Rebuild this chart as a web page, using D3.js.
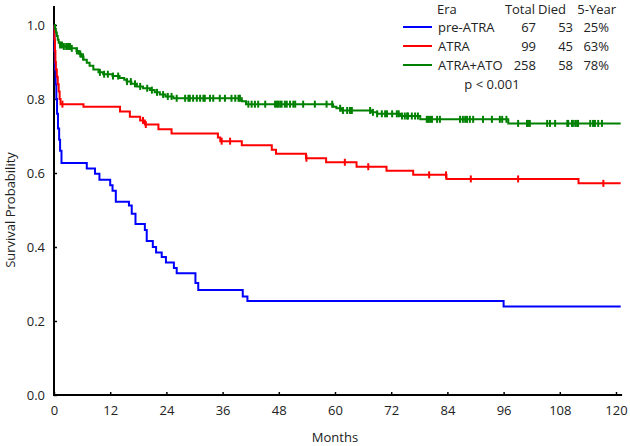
<!DOCTYPE html>
<html><head><meta charset="utf-8">
<script src="https://cdn.jsdelivr.net/npm/d3@7"></script>
<style>html,body{margin:0;padding:0;background:#fff;}svg{display:block;font-family:"Open Sans",sans-serif;}</style>
</head><body><svg id="c" width="630" height="446"></svg>
<script>
// ---- data ----
const eras = ["pre-ATRA", "ATRA", "ATRA+ATO"];
const colors = ["#0000ff", "#ff0000", "#008000"];
const totals = [67, 99, 258];
const died = [53, 45, 58];
const fiveYear = ["25%", "63%", "78%"];
const pValue = "p < 0.001";
const xTicks = [0, 12, 24, 36, 48, 60, 72, 84, 96, 108, 120];
const yTicks = [0.0, 0.2, 0.4, 0.6, 0.8, 1.0];
const followEnd = 121;

const preAtraTime = [0,0.1,0.2,0.35,0.5,0.65,0.85,1.1,1.3,1.6,7.0,8.75,9.7,12.0,12.5,13.2,16.0,16.6,17.4,19.4,19.8,21.1,21.8,23.0,23.9,25.6,26.2,30.2,30.8,40.3,41.3,96];
const preAtraSurv = [1.0,0.93,0.88,0.84,0.80,0.76,0.72,0.69,0.66,0.627,0.612,0.598,0.582,0.567,0.552,0.522,0.512,0.49,0.462,0.446,0.416,0.40,0.385,0.373,0.358,0.343,0.329,0.303,0.284,0.266,0.254,0.239];
const preAtraCensor = [];

const atraTime = [0,0.1,0.2,0.3,0.4,0.6,0.8,1.0,1.2,1.4,6.3,14.1,16.2,18.4,19.4,22.3,25.1,35.0,35.5,40.1,46.5,47.4,53.8,58.1,64.6,71.0,76.7,83.8,112.0];
const atraSurv = [1.0,0.96,0.93,0.90,0.88,0.86,0.84,0.82,0.80,0.786,0.779,0.766,0.752,0.742,0.731,0.718,0.707,0.696,0.686,0.675,0.663,0.652,0.64,0.629,0.617,0.606,0.595,0.584,0.572];
const atraCensor = [1.8,19.0,19.6,35.8,37.6,53.9,62.1,67.1,80.1,83.7,89.0,99.1,117.3];

const atraAtoTime = [0,0.2,0.4,0.6,0.8,1.0,1.3,2.0,3.5,4.8,5.3,5.8,6.3,7.0,7.6,8.4,9.5,10.5,12.5,14.0,15.0,15.5,16.5,17.7,19.0,20.5,21.5,22.6,23.8,25.5,40.1,41.0,59.6,60.3,61.4,67.8,69.0,73.9,78.2,97.0];
const atraAtoSurv = [1.0,0.99,0.98,0.97,0.96,0.952,0.946,0.942,0.937,0.93,0.922,0.914,0.906,0.898,0.89,0.88,0.872,0.867,0.862,0.857,0.852,0.847,0.841,0.834,0.829,0.824,0.818,0.812,0.807,0.802,0.794,0.786,0.779,0.775,0.769,0.764,0.76,0.754,0.745,0.734];
const atraAtoCensor = [1.3,1.7,2.1,2.6,3.0,3.4,3.8,4.9,5.6,6.2,9.8,10.7,11.5,12.6,13.7,15.6,16.4,17.3,18.4,19.9,20.9,22.0,23.3,24.3,
  25.1,26.2,28.0,28.7,29.0,29.7,30.5,31.2,31.9,32.2,33.3,34.0,35.4,36.5,37.9,38.7,39.4,39.7,
  41.5,42.2,42.9,43.6,45.1,47.2,47.6,47.9,48.3,48.6,49.3,49.7,50.4,51.1,51.5,53.2,55.7,58.2,59.4,
  61.1,61.7,62.6,63.2,63.6,67.5,68.1,69.0,70.0,70.7,71.1,72.2,73.2,73.6,74.3,74.9,75.4,75.6,76.4,77.1,77.7,
  79.6,79.9,80.3,80.7,81.8,82.4,86.7,87.3,87.8,88.2,88.8,89.5,91.6,93.5,95.2,95.7,96.6,
  99.1,101.0,101.2,101.6,105.3,105.9,107.0,109.6,109.8,110.6,110.8,111.3,111.7,111.9,114.5,115.1,115.5,116.2,117.0];

const series = [
  {time: preAtraTime, surv: preAtraSurv, censor: preAtraCensor},
  {time: atraTime, surv: atraSurv, censor: atraCensor},
  {time: atraAtoTime, surv: atraAtoSurv, censor: atraAtoCensor}
];

// ---- chart ----
const svg = d3.select("#c");
const x = d3.scaleLinear().domain([0, 120]).range([54, 616]);
const y = d3.scaleLinear().domain([0, 1]).range([395, 25]);

// axes
const xAxis = d3.axisBottom(x).tickValues(xTicks).tickFormat(d3.format("d")).tickSizeInner(-3).tickSizeOuter(0).tickPadding(11);
const gx = svg.append("g").attr("transform", "translate(0,395)").call(xAxis);
gx.select(".domain").remove();
svg.append("line").attr("x1", 53).attr("x2", x(121.3)).attr("y1", 395).attr("y2", 395).attr("stroke", "#000").attr("stroke-width", 2);
const yAxis = d3.axisLeft(y).tickValues(yTicks).tickFormat(d3.format(".1f")).tickSizeInner(-3).tickSizeOuter(0).tickPadding(9);
const gy = svg.append("g").attr("transform", "translate(54,0)").call(yAxis);
gy.select(".domain").remove();
svg.append("line").attr("x1", 54).attr("x2", 54).attr("y1", 6).attr("y2", 396).attr("stroke", "#000").attr("stroke-width", 2);
svg.selectAll(".tick text").attr("font-size", 13).attr("fill", "#222").attr("font-family", "'Open Sans', sans-serif");
svg.selectAll(".tick line").attr("stroke", "#000").attr("stroke-width", 1.5);

// axis titles
svg.append("text").attr("x", x(60)).attr("y", 442).attr("text-anchor", "middle").attr("font-size", 13).attr("fill", "#222").text("Months");
svg.append("text").attr("transform", "translate(15," + y(0.5) + ") rotate(-90)").attr("text-anchor", "middle").attr("font-size", 13).attr("fill", "#222").text("Survival Probability");

// curves
const line = d3.line().x(d => x(d[0])).y(d => y(d[1])).curve(d3.curveStepAfter);
function survAt(s, t) {
  let v = s.surv[0];
  for (let i = 0; i < s.time.length; i++) if (s.time[i] <= t) v = s.surv[i];
  return v;
}
series.forEach((s, i) => {
  const pts = s.time.map((t, j) => [t, s.surv[j]]);
  pts.push([followEnd, s.surv[s.surv.length - 1]]);
  svg.append("path").attr("d", line(pts)).attr("fill", "none").attr("stroke", colors[i]).attr("stroke-width", 2);
  svg.append("g").selectAll("line").data(s.censor).join("line")
    .attr("x1", d => x(d)).attr("x2", d => x(d))
    .attr("y1", d => y(survAt(s, d)) - 3.5).attr("y2", d => y(survAt(s, d)) + 3.5)
    .attr("stroke", colors[i]).attr("stroke-width", 2);
});

// legend
const lg = svg.append("g").attr("font-size", 13).attr("fill", "#222");
const rowY = [32, 51, 70];
lg.append("text").attr("x", 437).attr("y", 14).text("Era");
lg.append("text").attr("x", 535).attr("y", 14).attr("text-anchor", "end").text("Total");
lg.append("text").attr("x", 566).attr("y", 14).attr("text-anchor", "end").text("Died");
lg.append("text").attr("x", 616).attr("y", 14).attr("text-anchor", "end").text("5-Year");
eras.forEach((e, i) => {
  lg.append("line").attr("x1", 403).attr("x2", 432).attr("y1", rowY[i] - 5).attr("y2", rowY[i] - 5).attr("stroke", colors[i]).attr("stroke-width", 2);
  lg.append("text").attr("x", 438).attr("y", rowY[i]).text(e);
  lg.append("text").attr("x", 536).attr("y", rowY[i]).attr("text-anchor", "end").text(totals[i]);
  lg.append("text").attr("x", 573).attr("y", rowY[i]).attr("text-anchor", "end").text(died[i]);
  lg.append("text").attr("x", 609).attr("y", rowY[i]).attr("text-anchor", "end").text(fiveYear[i]);
});
lg.append("text").attr("x", 492).attr("y", 89).attr("text-anchor", "middle").text(pValue);
</script></body></html>
